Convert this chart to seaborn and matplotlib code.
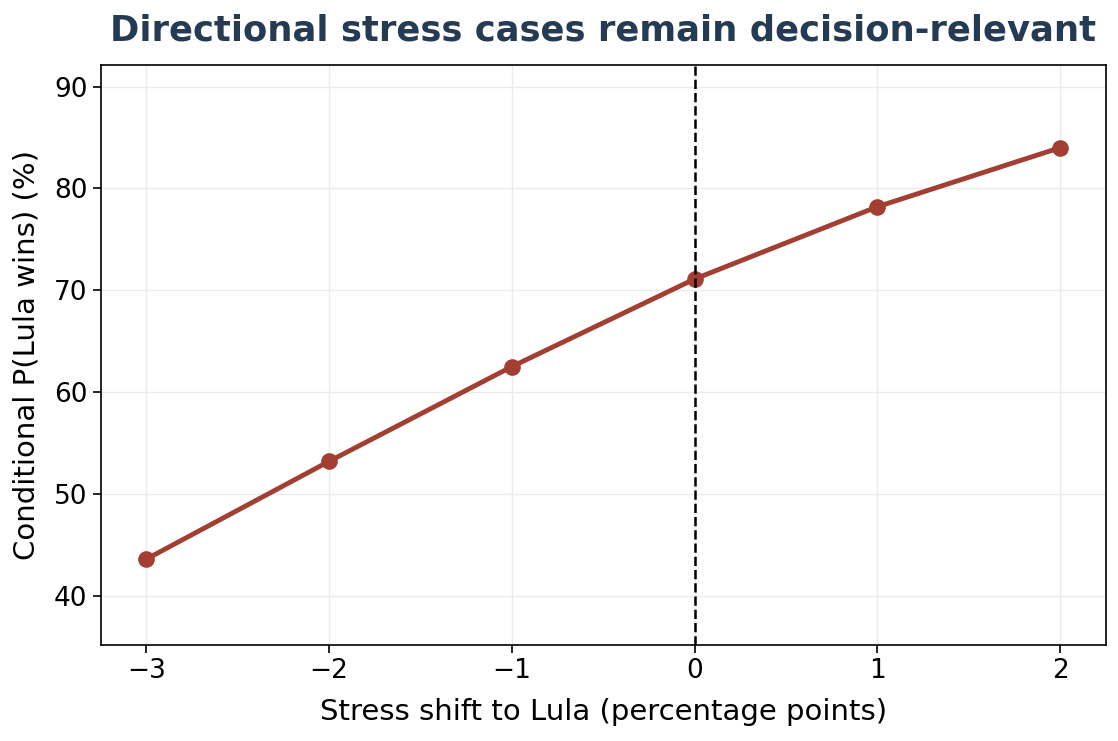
import matplotlib
matplotlib.use("Agg")
import matplotlib.pyplot as plt
import seaborn as sns
import pandas as pd

shift = [-3, -2, -1, 0, 1, 2]
prob = [43.6, 53.2, 62.5, 71.1, 78.2, 84.0]

sns.set_theme(style="ticks")
plt.rcParams['font.family'] = ['DejaVu Sans']

df = pd.DataFrame({"shift": shift, "prob": prob})

fig, ax = plt.subplots(figsize=(11.18, 7.41), dpi=100)
sns.lineplot(data=df, x="shift", y="prob", ax=ax, color="#a33f32",
             linewidth=3.5, marker="o", markersize=12, markeredgewidth=0)
ax.axvline(0, color="black", linestyle="--", linewidth=1.8)
ax.grid(True, color="#ebebeb", linewidth=1)
ax.set_axisbelow(True)
ax.set_xlim(-3.25, 2.25)
ax.set_ylim(35.2, 92.1)
ax.set_xticks(shift)
ax.set_yticks([40, 50, 60, 70, 80, 90])
ax.tick_params(labelsize=19, length=6, width=1.2, colors="black")
for s in ax.spines.values():
    s.set_color("black")
    s.set_linewidth(1.2)
ax.set_xlabel("Stress shift to Lula (percentage points)", fontsize=21,
              labelpad=10, color="black")
ax.set_ylabel("Conditional P(Lula wins) (%)", fontsize=21, labelpad=10,
              color="black")
ax.set_title("Directional stress cases remain decision-relevant", fontsize=25.5,
             fontweight="bold", color="#243b53", pad=18)
fig.subplots_adjust(left=0.09, right=0.989, top=0.912, bottom=0.13)
fig.savefig("out.png", dpi=100)
